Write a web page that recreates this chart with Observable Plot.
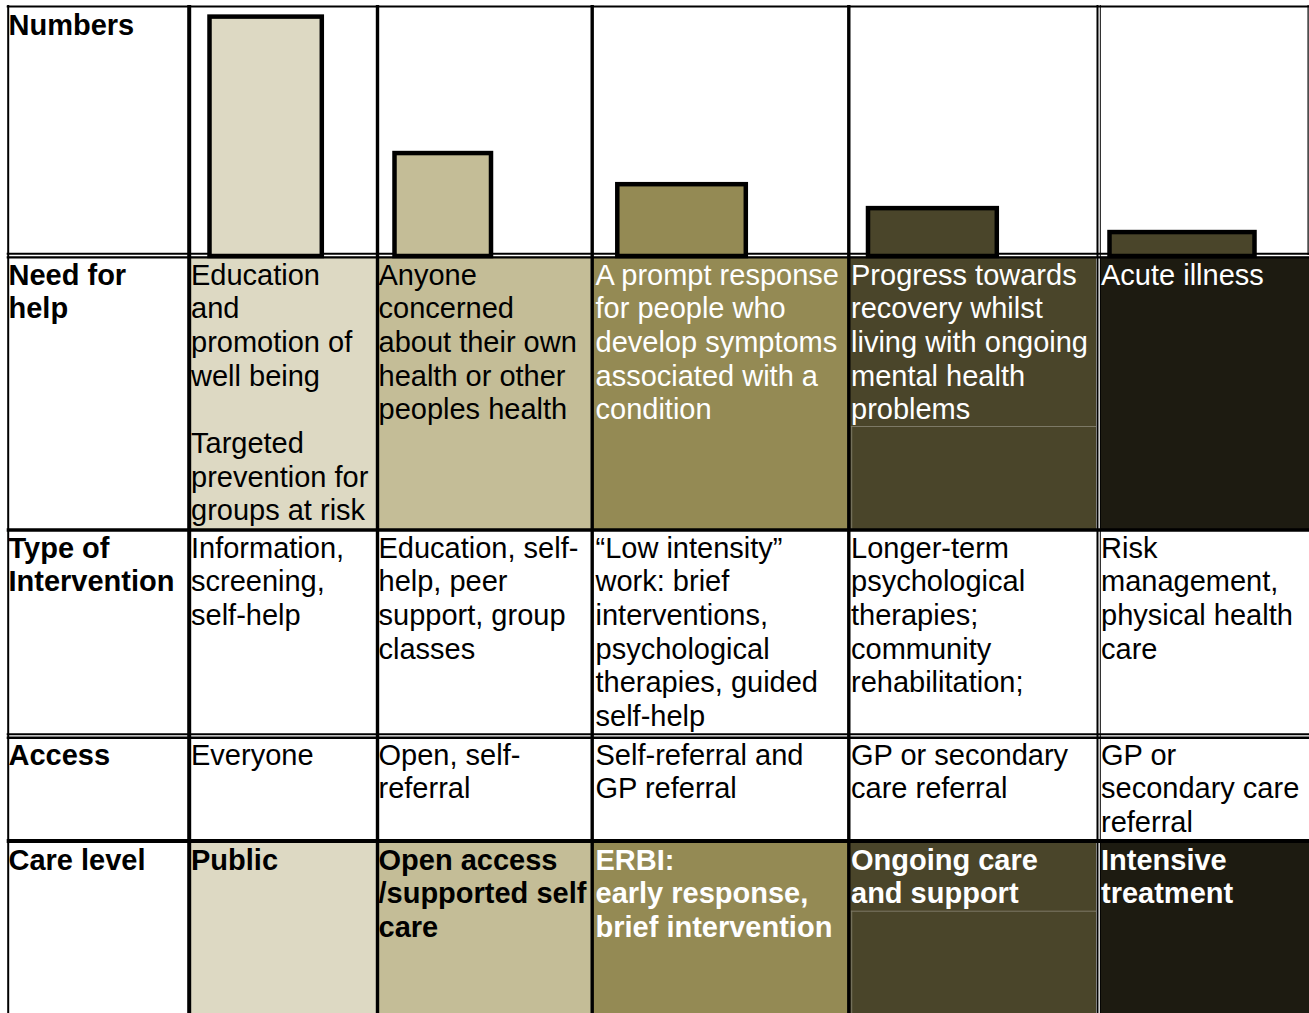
<!DOCTYPE html>
<html>
<head>
<meta charset="utf-8">
<script src="https://cdn.jsdelivr.net/npm/d3@7"></script>
<script src="https://cdn.jsdelivr.net/npm/@observablehq/plot@0.6"></script>
<style>
html, body { margin: 0; padding: 0; background: #fff; }
#wrap { position: relative; width: 1309px; height: 1013px; overflow: hidden; }
#wrap svg { position: absolute; left: 0; top: 0; }
</style>
</head>
<body>
<div id="wrap"></div>
<script>
// ---------- DATA ----------
const rowLabels = ["Numbers", "Need for\nhelp", "Type of\nIntervention", "Access", "Care level"];
const careLevels = [
  "Public",
  "Open access\n/supported self\ncare",
  "ERBI:\nearly response,\nbrief intervention",
  "Ongoing care\nand support",
  "Intensive\ntreatment"
];
const numbers = [100, 43, 30, 20, 10];
const needForHelp = [
  "Education\nand\npromotion of\nwell being\n\nTargeted\nprevention for\ngroups at risk",
  "Anyone\nconcerned\nabout their own\nhealth or other\npeoples health",
  "A prompt response\nfor people who\ndevelop symptoms\nassociated with a\ncondition",
  "Progress towards\nrecovery whilst\nliving with ongoing\nmental health\nproblems",
  "Acute illness"
];
const interventions = [
  "Information,\nscreening,\nself-help",
  "Education, self-\nhelp, peer\nsupport, group\nclasses",
  "\u201cLow intensity\u201d\nwork: brief\ninterventions,\npsychological\ntherapies, guided\nself-help",
  "Longer-term\npsychological\ntherapies;\ncommunity\nrehabilitation;",
  "Risk\nmanagement,\nphysical health\ncare"
];
const access = [
  "Everyone",
  "Open, self-\nreferral",
  "Self-referral and\nGP referral",
  "GP or secondary\ncare referral",
  "GP or\nsecondary care\nreferral"
];

// ---------- STYLES ----------
const cellFills = ["#DDD9C3", "#C4BD97", "#948A54", "#4A452A", "#1D1B11"];
const barFills  = ["#DDD9C3", "#C4BD97", "#948A54", "#4A452A", "#4A452A"];
const lightText = [false, false, true, true, true];
const FONT = "Liberation Sans, Arial, Helvetica, sans-serif";
const FS = 29, LH = 1.162;

// ---------- LAYOUT ----------
const W = 1309, H = 1013;
const colCells = [[7.7, 188.7], [188.7, 377], [377, 591.7], [591.7, 848.3], [848.3, 1096], [1100, 1309]];
const textX = [8, 190.5, 378, 595, 850.5, 1100.5];
const rowBaseline = [34, 284, 557, 764, 869];
const needBand = [256.8, 529.5];
const careBand = [840.5, 1013];
const barSpans = [[209.5, 321.8], [394.5, 491], [617.3, 745.8], [868, 996.8], [1109.5, 1254.5]];
const barBase = 256, barTopFull = 16.6;

const hLines = [
  {y: 6, x1: 6.7, x2: W, w: 1.8},
  {y: 253.3, x1: 6.7, x2: W, w: 2},
  {y: 256.8, x1: 6.7, x2: W, w: 2.3},
  {y: 529.5, x1: 6.7, x2: W, w: 3.7},
  {y: 733.7, x1: 6.7, x2: W, w: 2},
  {y: 737.2, x1: 6.7, x2: W, w: 2.4},
  {y: 840.5, x1: 6.7, x2: W, w: 4}
];
const vLines = [
  {x: 7.7, y1: 5, y2: H, w: 2},
  {x: 188.7, y1: 5, y2: H, w: 4},
  {x: 377, y1: 5, y2: H, w: 3.4},
  {x: 591.7, y1: 5, y2: H, w: 3.4},
  {x: 848.3, y1: 5, y2: H, w: 3.4},
  {x: 1097, y1: 5, y2: H, w: 2},
  {x: 1099.8, y1: 5, y2: H, w: 1},
  {x: 1307.6, y1: 5, y2: 255, w: 1.2}
];
const faintH = [{y: 426, x1: 850.7, x2: 1096}, {y: 910.7, x1: 850.7, x2: 1096}];
const faintV = [{x: 851.2, y1: 426, y2: 529.5}, {x: 851.2, y1: 910.7, y2: 1013}];

// ---------- BUILD TABLES ----------
const cells = [];
cellFills.forEach((f, i) => {
  const [l, r] = colCells[i + 1];
  cells.push({x1: l, x2: r, y1: needBand[0], y2: needBand[1], fill: f});
  cells.push({x1: l, x2: r, y1: careBand[0], y2: careBand[1], fill: f});
});

const textY = b => b - 0.71 * LH * FS;
const texts = [];
rowLabels.forEach((t, r) => texts.push({x: textX[0], y: textY(rowBaseline[r]), text: t, bold: true, color: "#000"}));
needForHelp.forEach((t, i) => texts.push({x: textX[i + 1], y: textY(rowBaseline[1]), text: t, bold: false, color: lightText[i] ? "#fff" : "#000"}));
interventions.forEach((t, i) => texts.push({x: textX[i + 1], y: textY(rowBaseline[2]), text: t, bold: false, color: "#000"}));
access.forEach((t, i) => texts.push({x: textX[i + 1], y: textY(rowBaseline[3]), text: t, bold: false, color: "#000"}));
careLevels.forEach((t, i) => texts.push({x: textX[i + 1], y: textY(rowBaseline[4]), text: t, bold: true, color: lightText[i] ? "#fff" : "#000"}));

const textMark = (data) => Plot.text(data, {
  x: "x", y: "y", text: "text", fill: d => d.color,
  textAnchor: "start", lineAnchor: "top", fontSize: FS, lineHeight: LH,
  fontFamily: FONT, fontWeight: data[0].bold ? "bold" : "normal"
});

const table = Plot.plot({
  width: W, height: H, margin: 0, axis: null,
  x: {type: "identity"}, y: {type: "identity"},
  style: {background: "#fff"},
  marks: [
    Plot.rect(cells, {x1: "x1", x2: "x2", y1: "y1", y2: "y2", fill: d => d.fill}),
    Plot.ruleY(faintH, {y: "y", x1: "x1", x2: "x2", stroke: "#7d7966", strokeWidth: 1}),
    Plot.ruleX(faintV, {x: "x", y1: "y1", y2: "y2", stroke: "#7d7966", strokeWidth: 1}),
    Plot.ruleY(hLines, {y: "y", x1: "x1", x2: "x2", stroke: "#000", strokeWidth: d => d.w}),
    Plot.ruleX(vLines, {x: "x", y1: "y1", y2: "y2", stroke: "#000", strokeWidth: d => d.w}),
    textMark(texts.filter(d => !d.bold)),
    textMark(texts.filter(d => d.bold))
  ]
});

const bars = numbers.map((v, i) => ({level: careLevels[i], value: v, x1: barSpans[i][0], x2: barSpans[i][1], fill: barFills[i]}));
const barChart = Plot.plot({
  width: W, height: H, margin: 0, axis: null,
  x: {type: "identity"},
  y: {type: "linear", domain: [0, 100], range: [barBase, barTopFull]},
  style: {background: "transparent"},
  marks: [
    Plot.rect(bars, {x1: "x1", x2: "x2", y1: 0, y2: "value", fill: d => d.fill, stroke: "#000", strokeWidth: 4.5})
  ]
});

const wrap = document.getElementById("wrap");
wrap.appendChild(table);
wrap.appendChild(barChart);
</script>
</body>
</html>
